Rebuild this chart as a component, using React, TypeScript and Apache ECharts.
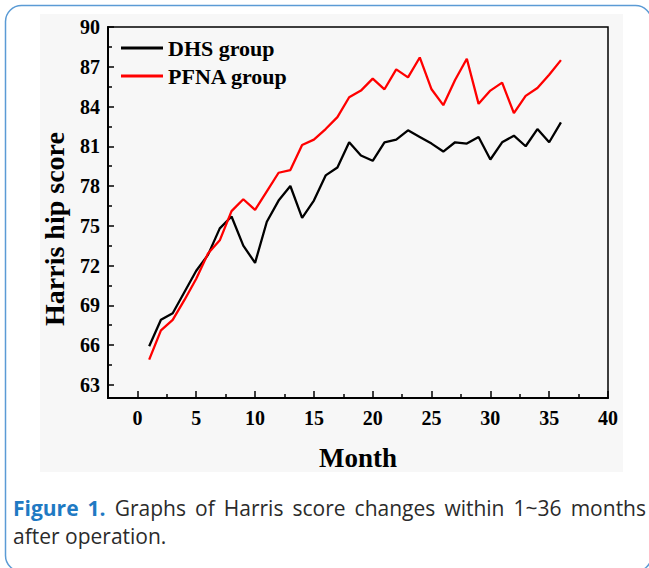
import React, { useEffect, useRef } from "react";
import * as echarts from "echarts";

const months = [1, 2, 3, 4, 5, 6, 7, 8, 9, 10, 11, 12, 13, 14, 15, 16, 17, 18, 19, 20, 21, 22, 23, 24, 25, 26, 27, 28, 29, 30, 31, 32, 33, 34, 35, 36];
const dhs = [65.9, 67.9, 68.4, 70.0, 71.6, 72.8, 74.8, 75.7, 73.5, 72.2, 75.3, 76.9, 78.0, 75.6, 76.9, 78.8, 79.4, 81.3, 80.3, 79.9, 81.3, 81.5, 82.2, 81.7, 81.2, 80.6, 81.3, 81.2, 81.7, 80.0, 81.3, 81.8, 81.0, 82.3, 81.3, 82.8];
const pfna = [64.9, 67.1, 67.9, 69.4, 71.0, 72.9, 73.9, 76.1, 77.0, 76.2, 77.6, 79.0, 79.2, 81.1, 81.5, 82.3, 83.2, 84.7, 85.2, 86.1, 85.3, 86.8, 86.2, 87.7, 85.3, 84.1, 86.0, 87.6, 84.2, 85.2, 85.8, 83.5, 84.8, 85.4, 86.4, 87.5];
const xLabels = [0, 5, 10, 15, 20, 25, 30, 35, 40];
const xMinorTicks = [2.5, 7.5, 12.5, 17.5, 22.5, 27.5, 32.5, 37.5];
const yLabels = [63, 66, 69, 72, 75, 78, 81, 84, 87, 90];
const yMinorTicks = [64.5, 67.5, 70.5, 73.5, 76.5, 79.5, 82.5, 85.5, 88.5];
const seriesNames = ["DHS group", "PFNA group"];
const seriesColors = ["#000000", "#ff0000"];
const captionWords = ["Figure", "1.", "Graphs", "of", "Harris", "score", "changes", "within", "1~36", "months"];
const captionBlueCount = 2;
const captionLine2 = "after operation.";

const SERIF = "'Liberation Serif', 'Times New Roman', serif";
const SANS = "'Open Sans', 'Noto Sans', sans-serif";

function measure(text: string, font: string): number {
  const c = document.createElement("canvas").getContext("2d");
  if (!c) return text.length * 10;
  c.font = font;
  return c.measureText(text).width;
}

export default function App() {
  const ref = useRef<HTMLDivElement>(null);
  useEffect(() => {
    if (!ref.current) return;
    const chart = echarts.init(ref.current, null, { renderer: "svg" });
    const labelStyle = { fontFamily: SERIF, fontWeight: "bold" as const, fontSize: 20, color: "#000" };

    // justified first caption line
    const capSize = 21;
    const lineLeft = 13, lineRight = 646;
    const fonts = captionWords.map((_, i) => (i < captionBlueCount ? "bold " : "") + capSize + "px 'Open Sans'");
    const widths = captionWords.map((w, i) => measure(w, fonts[i]));
    const total = widths.reduce((a, b) => a + b, 0);
    const gap = (lineRight - lineLeft - total) / (captionWords.length - 1);
    let cx = lineLeft;
    const wordGraphics = captionWords.map((w, i) => {
      const g = {
        type: "text", z: 50, x: cx, y: 508,
        style: {
          text: w, fontFamily: SANS, fontSize: capSize,
          fontWeight: i < captionBlueCount ? "bold" : "normal",
          fill: i < captionBlueCount ? "#1f7ac3" : "#2b2b2b",
          align: "left", verticalAlign: "middle",
        },
      };
      cx += widths[i] + gap;
      return g;
    });

    const noZero = { onZero: false };
    chart.setOption({
      animation: false,
      backgroundColor: "#ffffff",
      grid: {
        left: 108, top: 27, right: 41, bottom: 170,
        show: true, borderColor: "#000", borderWidth: 1.5, backgroundColor: "transparent",
      },
      legend: {
        data: seriesNames,
        orient: "vertical",
        left: 116,
        top: 32,
        itemWidth: 42,
        itemHeight: 3,
        itemGap: 6,
        icon: "rect",
        textStyle: { fontFamily: SERIF, fontWeight: "bold", fontSize: 22, color: "#000" },
      },
      xAxis: [
        {
          type: "value", min: -2.5, max: 40, position: "bottom",
          axisLine: { show: true, ...noZero, lineStyle: { color: "#000", width: 2 } },
          axisTick: { show: true, inside: true, length: 7, customValues: xLabels, lineStyle: { color: "#000", width: 1.5 } },
          axisLabel: { show: true, customValues: xLabels, margin: 10, ...labelStyle },
          splitLine: { show: false },
        },
        {
          type: "value", min: -2.5, max: 40, position: "bottom",
          axisLine: { show: false, ...noZero },
          axisTick: { show: true, inside: true, length: 4, customValues: xMinorTicks, lineStyle: { color: "#000", width: 1.5 } },
          axisLabel: { show: false },
          splitLine: { show: false },
        },
      ],
      yAxis: [
        {
          type: "value", min: 62, max: 90, position: "left",
          axisLine: { show: true, ...noZero, lineStyle: { color: "#000", width: 2 } },
          axisTick: { show: true, inside: true, length: 6, customValues: yLabels, lineStyle: { color: "#000", width: 1.5 } },
          axisLabel: { show: true, customValues: yLabels, margin: 8, ...labelStyle },
          splitLine: { show: false },
        },
        {
          type: "value", min: 62, max: 90, position: "left",
          axisLine: { show: false, ...noZero },
          axisTick: { show: true, inside: true, length: 4, customValues: yMinorTicks, lineStyle: { color: "#000", width: 1.5 } },
          axisLabel: { show: false },
          splitLine: { show: false },
        },
      ],
      series: [
        {
          name: seriesNames[0], type: "line", xAxisIndex: 0, yAxisIndex: 0,
          data: months.map((m, i) => [m, dhs[i]]),
          symbol: "none", color: seriesColors[0],
          lineStyle: { color: seriesColors[0], width: 2.3 },
        },
        {
          name: seriesNames[1], type: "line", xAxisIndex: 0, yAxisIndex: 0,
          data: months.map((m, i) => [m, pfna[i]]),
          symbol: "none", color: seriesColors[1],
          lineStyle: { color: seriesColors[1], width: 2.3 },
        },
      ],
      graphic: [
        {
          type: "rect", z: -10, silent: true,
          shape: { x: 40, y: 14, width: 583, height: 458 },
          style: { fill: "#f7f7f7" },
        },
        {
          type: "rect", z: 100, silent: true,
          shape: { x: 5.5, y: 5.5, width: 646, height: 566, r: 16 },
          style: { fill: "none", stroke: "#5b9bd5", lineWidth: 1.5 },
        },
        {
          type: "text", z: 50, x: 54, y: 229, rotation: Math.PI / 2,
          style: { text: "Harris hip score", fontFamily: SERIF, fontWeight: "bold", fontSize: 28, fill: "#000", align: "center", verticalAlign: "middle" },
        },
        {
          type: "text", z: 50, x: 358, y: 458,
          style: { text: "Month", fontFamily: SERIF, fontWeight: "bold", fontSize: 27, fill: "#000", align: "center", verticalAlign: "middle" },
        },
        ...wordGraphics,
        {
          type: "text", z: 50, x: 13, y: 536,
          style: { text: captionLine2, fontFamily: SANS, fontSize: capSize, fill: "#2b2b2b", align: "left", verticalAlign: "middle" },
        },
      ],
    });
    return () => chart.dispose();
  }, []);
  return <div ref={ref} style={{ position: "absolute", left: 0, top: 0, width: 649, height: 568 }} />;
}
